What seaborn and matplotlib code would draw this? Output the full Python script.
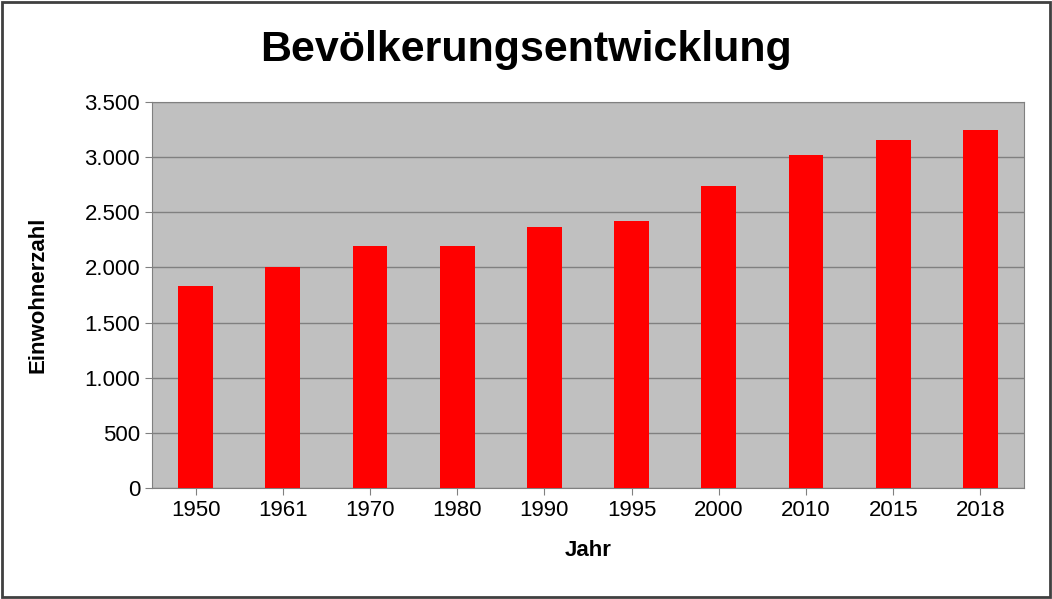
import pandas as pd
import seaborn as sns
import matplotlib.pyplot as plt
from matplotlib.patches import Rectangle
from matplotlib.ticker import FuncFormatter

# values
jahre = ["1950", "1961", "1970", "1980", "1990", "1995", "2000", "2010", "2015", "2018"]
einwohner = [1830, 2005, 2195, 2195, 2367, 2422, 2739, 3020, 3156, 3247]

df = pd.DataFrame({"Jahr": jahre, "Einwohnerzahl": einwohner})

sns.set_style("white")
plt.rcParams["font.family"] = ["Liberation Sans", "DejaVu Sans"]
plt.rcParams["text.color"] = "black"
plt.rcParams["axes.labelcolor"] = "black"
plt.rcParams["xtick.color"] = "black"
plt.rcParams["ytick.color"] = "black"

fig = plt.figure(figsize=(10.52, 5.99), dpi=100)
ax = fig.add_axes([152 / 1052, 1 - 488 / 599, 872 / 1052, 386 / 599])
ax.set_facecolor("#c0c0c0")

sns.barplot(data=df, x="Jahr", y="Einwohnerzahl", color="#ff0000", width=0.4,
            saturation=1, linewidth=0, ax=ax, zorder=3)

ax.set_ylim(0, 3500)
ax.set_yticks(range(0, 3501, 500))
ax.yaxis.set_major_formatter(FuncFormatter(lambda v, p: f"{int(v):,}".replace(",", ".")))
ax.grid(axis="y", color="#808080", linewidth=1, zorder=0)
ax.set_axisbelow(True)
for s in ax.spines.values():
    s.set_color("#808080")
ax.tick_params(axis="both", labelsize=16, length=5, color="#808080", direction="out",
               left=True, bottom=True, labelcolor="black")
ax.set_xlabel("Jahr", fontsize=16, fontweight="bold", labelpad=14)
ax.set_ylabel("Einwohnerzahl", fontsize=16, fontweight="bold", labelpad=26)

fig.suptitle("Bevölkerungsentwicklung", fontsize=31, fontweight="bold", y=0.95)

# outer frame
fig.patches.append(Rectangle((0.002, 0.003), 0.996, 0.994, transform=fig.transFigure,
                             fill=False, edgecolor="#404040", linewidth=2))

fig.savefig("out.png", dpi=100)
